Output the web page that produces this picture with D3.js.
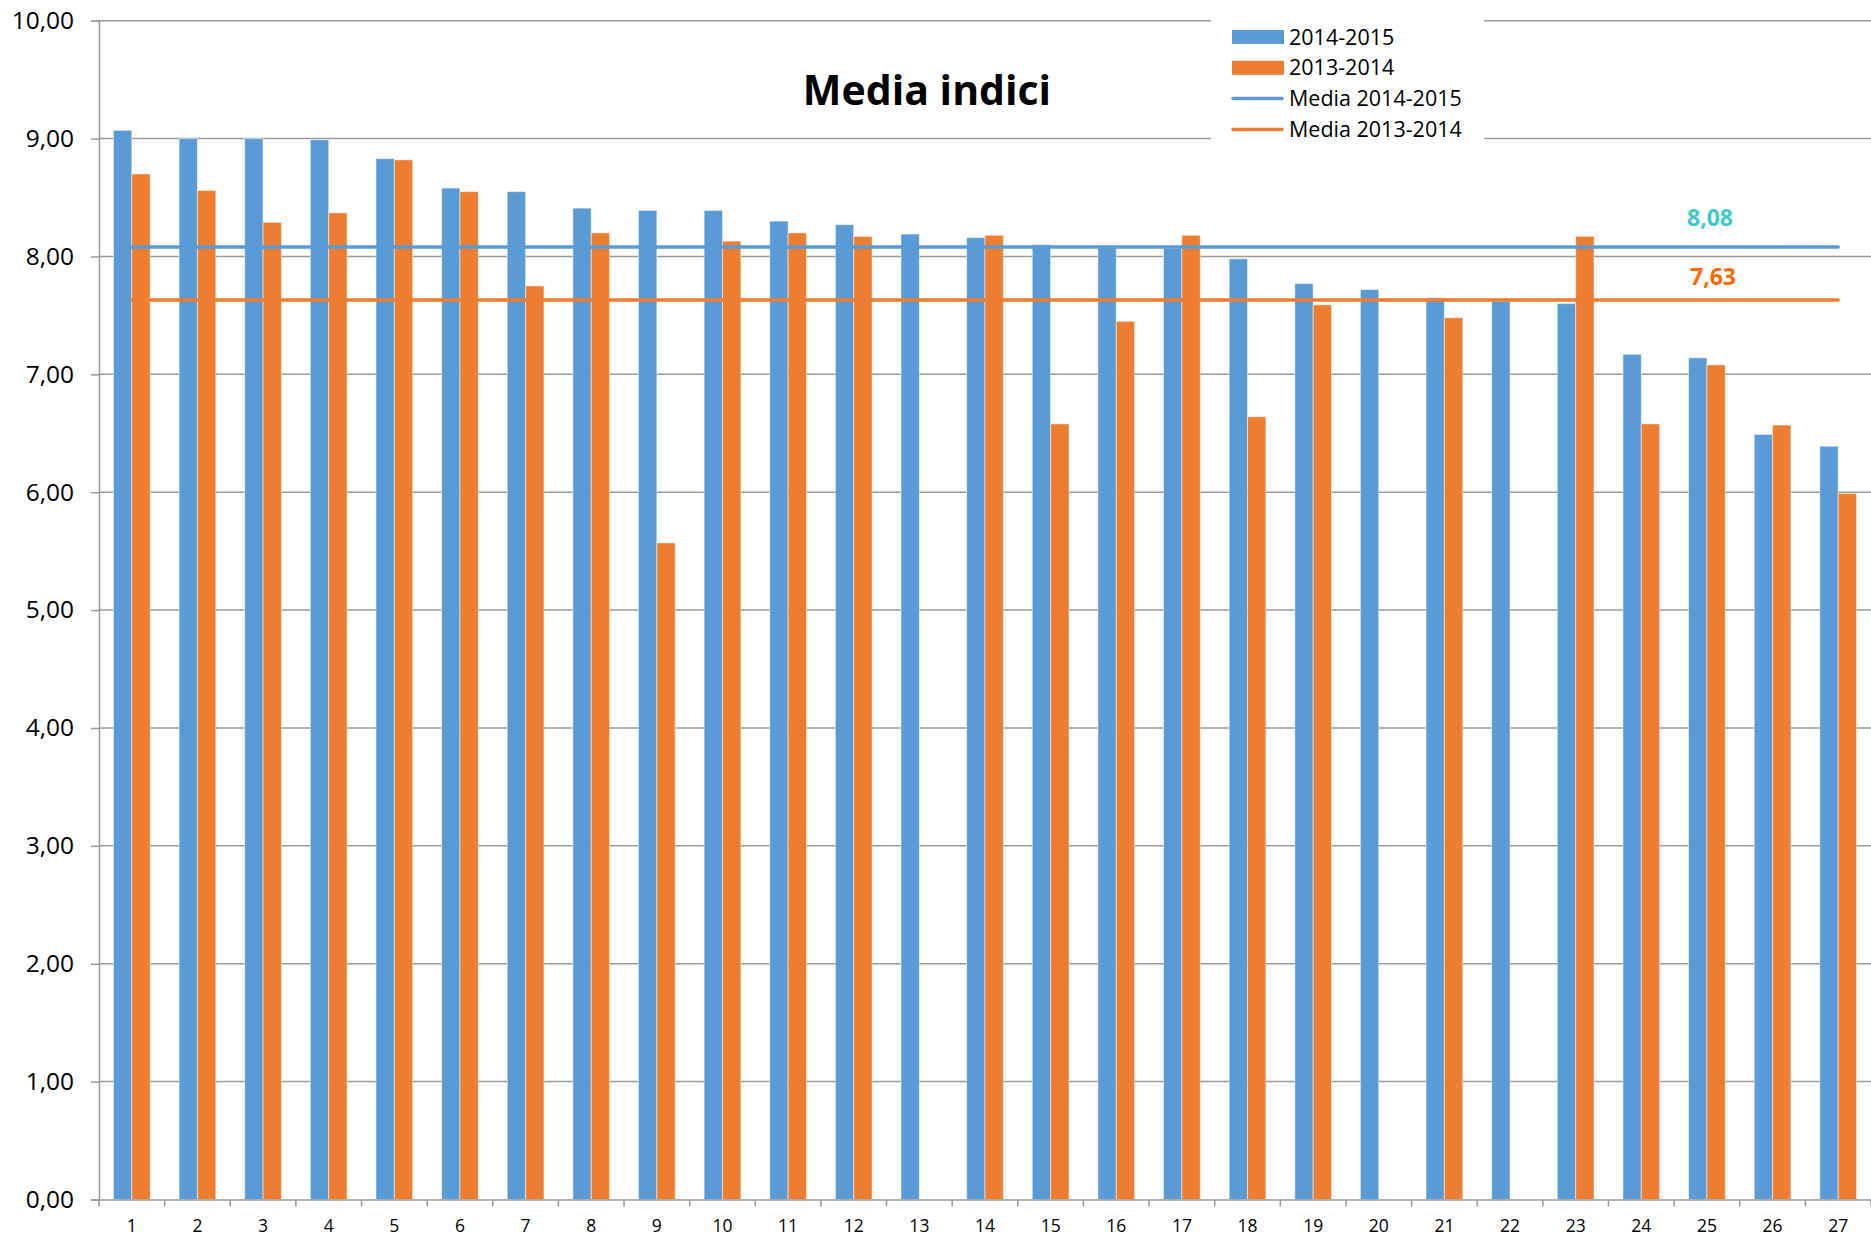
<!DOCTYPE html>
<html>
<head>
<meta charset="utf-8">
<script src="https://cdn.jsdelivr.net/npm/d3@7"></script>
<style>
  body { margin: 0; background: #fff; }
  text { font-family: "Open Sans", sans-serif; }
</style>
</head>
<body>
<script>
// data
var categories = d3.range(1, 28).map(String);
var serie2015 = [9.07, 9.00, 9.00, 8.99, 8.83, 8.58, 8.55, 8.41, 8.39, 8.39, 8.30, 8.27, 8.19, 8.16,
  8.10, 8.09, 8.07, 7.98, 7.77, 7.72, 7.65, 7.62, 7.60, 7.17, 7.14, 6.49, 6.39];
var serie2014 = [8.70, 8.56, 8.29, 8.37, 8.82, 8.55, 7.75, 8.20, 5.57, 8.13, 8.20, 8.17, null, 8.18,
  6.58, 7.45, 8.18, 6.64, 7.59, null, 7.48, null, 8.17, 6.58, 7.08, 6.57, 5.99];
var media2015 = 8.08, media2014 = 7.63;
var yTicks = [0, 1, 2, 3, 4, 5, 6, 7, 8, 9, 10];
var seriesNames = ["2014-2015", "2013-2014"];
var legendLabels = ["2014-2015", "2013-2014", "Media 2014-2015", "Media 2013-2014"];

var blue = "#5b9bd5", orange = "#ed7d31";
var W = 1871, H = 1237;
var plotLeft = 99, plotRight = 1871, plotTop = 20.7, plotBottom = 1199.5;

var svg = d3.select("body").append("svg")
  .attr("width", W)
  .attr("height", H);

var x0 = d3.scaleBand()
  .domain(categories)
  .range([plotLeft, plotRight])
  .paddingInner(0.44)
  .paddingOuter(0.22);

var x1 = d3.scaleBand()
  .domain(seriesNames)
  .range([0, x0.bandwidth()]);

var y = d3.scaleLinear()
  .domain([0, 10])
  .range([plotBottom, plotTop]);

var fmt = function (d) { return d3.format(".2f")(d).replace(".", ","); };

// gridlines
svg.append("g")
  .selectAll("line")
  .data(yTicks.slice(1))
  .enter()
  .append("line")
  .attr("x1", plotLeft).attr("x2", W)
  .attr("y1", function (d) { return y(d); })
  .attr("y2", function (d) { return y(d); })
  .attr("stroke", "#9a9a9a")
  .attr("stroke-width", 1.5);

// bars
var rows = categories.map(function (c, i) {
  return { cat: c, values: [serie2015[i], serie2014[i]] };
});
var colors = d3.scaleOrdinal().domain(seriesNames).range([blue, orange]);

svg.append("g")
  .selectAll("g")
  .data(rows)
  .enter()
  .append("g")
  .attr("transform", function (d) { return "translate(" + x0(d.cat) + ",0)"; })
  .selectAll("rect")
  .data(function (d) {
    return seriesNames.map(function (s, k) { return { key: s, value: d.values[k] }; })
      .filter(function (e) { return e.value != null; });
  })
  .enter()
  .append("rect")
  .attr("x", function (d) { return x1(d.key); })
  .attr("width", x1.bandwidth())
  .attr("y", function (d) { return y(d.value); })
  .attr("height", function (d) { return y(0) - y(d.value); })
  .attr("fill", function (d) { return colors(d.key); })
  .attr("stroke", "#ffffff")
  .attr("stroke-opacity", 0.5)
  .attr("stroke-width", 1);

// y axis
var yAxis = svg.append("g")
  .attr("transform", "translate(" + plotLeft + ",0)")
  .call(d3.axisLeft(y).tickValues(yTicks).tickFormat(fmt).tickSize(8).tickPadding(17));
yAxis.selectAll("text").style("font-size", "24.5px").attr("fill", "#000");

// x axis
var xAxis = svg.append("g")
  .attr("transform", "translate(0," + plotBottom + ")")
  .call(d3.axisBottom(x0).tickSize(0).tickPadding(20));
xAxis.selectAll("text").style("font-size", "17.5px").attr("fill", "#000");
xAxis.append("g")
  .selectAll("line")
  .data(d3.range(0, categories.length + 1))
  .enter()
  .append("line")
  .attr("x1", function (i) { return plotLeft + i * x0.step(); })
  .attr("x2", function (i) { return plotLeft + i * x0.step(); })
  .attr("y1", 0).attr("y2", 7)
  .attr("stroke", "#9a9a9a")
  .attr("stroke-width", 1.5);
svg.selectAll(".domain").attr("stroke", "#9a9a9a").attr("stroke-width", 1.5);
yAxis.selectAll(".tick line").attr("stroke", "#9a9a9a").attr("stroke-width", 1.5);

// mean lines
var line = d3.line()
  .x(function (d) { return x0(d.cat) + x0.bandwidth() / 2; })
  .y(function (d) { return y(d.v); });

[[media2015, blue], [media2014, orange]].forEach(function (m) {
  svg.append("path")
    .datum(categories.map(function (c) { return { cat: c, v: m[0] }; }))
    .attr("d", line)
    .attr("fill", "none")
    .attr("stroke", m[1])
    .attr("stroke-width", 3.5)
    .attr("stroke-linecap", "round");
});

svg.append("text")
  .attr("x", 1710).attr("y", 226)
  .attr("text-anchor", "middle")
  .style("font-size", "23px").style("font-weight", "bold")
  .attr("fill", "#3ccaca")
  .text(fmt(media2015));
svg.append("text")
  .attr("x", 1713).attr("y", 285)
  .attr("text-anchor", "middle")
  .style("font-size", "23px").style("font-weight", "bold")
  .attr("fill", "#ff6600")
  .text(fmt(media2014));

// title
svg.append("text")
  .attr("x", 927).attr("y", 105)
  .attr("text-anchor", "middle")
  .style("font-size", "41px").style("font-weight", "bold")
  .attr("fill", "#000")
  .text("Media indici");

// legend
svg.append("rect")
  .attr("x", 1211).attr("y", 17)
  .attr("width", 273).attr("height", 124)
  .attr("fill", "#fff");

var legend = svg.append("g");
legendLabels.forEach(function (lab, i) {
  var cy = 37 + i * 30.8;
  var col = i % 2 === 0 ? blue : orange;
  if (i < 2) {
    legend.append("rect")
      .attr("x", 1232).attr("y", cy - 7)
      .attr("width", 52).attr("height", 14)
      .attr("fill", col);
  } else {
    legend.append("line")
      .attr("x1", 1233).attr("x2", 1282)
      .attr("y1", cy).attr("y2", cy)
      .attr("stroke", col)
      .attr("stroke-width", 3.5)
      .attr("stroke-linecap", "round");
  }
  legend.append("text")
    .attr("x", 1289).attr("y", cy + 7.5)
    .style("font-size", "21.5px")
    .attr("fill", "#000")
    .text(lab);
});
</script>
</body>
</html>
